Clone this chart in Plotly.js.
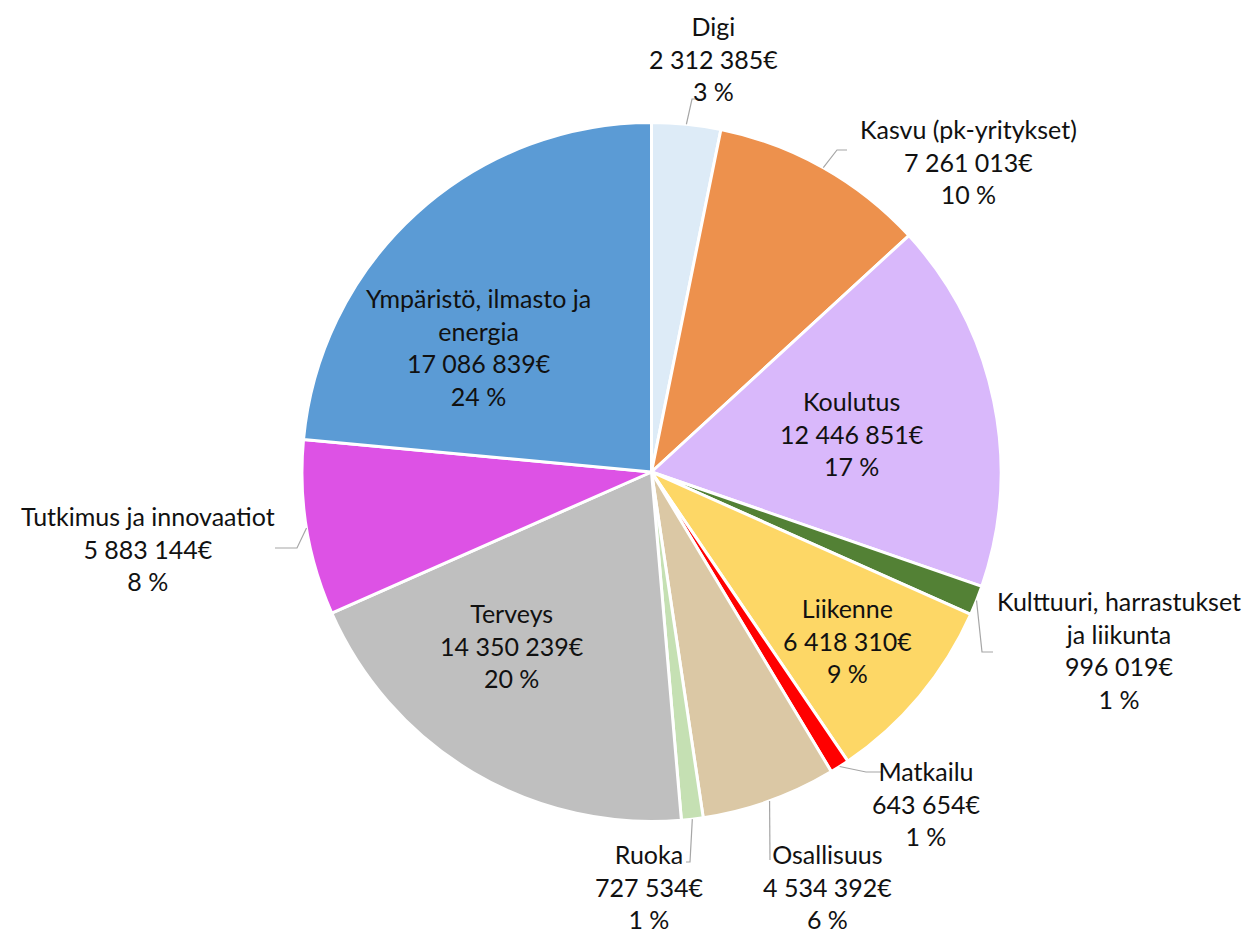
<!DOCTYPE html>
<html>
<head>
<meta charset="utf-8">
<script src="https://cdn.plot.ly/plotly-3.0.1.min.js"></script>
<style>
  html, body { margin: 0; padding: 0; background: #fff; }
  #chart { width: 1258px; height: 934px; }
</style>
</head>
<body>
<div id="chart"></div>
<script>
// slices, clockwise from 12 o'clock
const categories = [
    'Digi',
    'Kasvu (pk-yritykset)',
    'Koulutus',
    'Kulttuuri, harrastukset<br>ja liikunta',
    'Liikenne',
    'Matkailu',
    'Osallisuus',
    'Ruoka',
    'Terveys',
    'Tutkimus ja innovaatiot',
    'Ympäristö, ilmasto ja<br>energia'
];
const amounts = [2312385, 7261013, 12446851, 996019, 6418310, 643654, 4534392, 727534, 14350239, 5883144, 17086839];
const colors = ['#DDEBF7', '#ED914D', '#D9B8FB', '#538135', '#FDD766', '#FF0000', '#DBC8A5', '#C5E0B3', '#BFBFBF', '#DD52E5', '#5B9BD5'];

// label centres in px (x, y from top), layout only
const labelPos = [
    [713, 58], [968, 162], [852, 434], [1119, 650], [847, 640], [926, 803],
    [828, 886], [649, 886], [512, 645], [148, 548], [478, 347]
];
// leader lines: elbow x,y then end x,y (null = label sits inside the slice)
const leaders = [
    [692, 99, 703, 99], [837, 150, 847, 150], null, [982, 652, 993, 652], null,
    [866, 772, 882, 772], [770, 860, 770, 860], [690, 862, 686, 862], null,
    [297, 548, 275, 548], null
];

const W = 1258, H = 934;
const cx = 651.5, cy = 472, R = 349.5;

function fmt(n) {
    return String(n).replace(/\B(?=(\d{3})+(?!\d))/g, ' ');
}

const total = amounts.reduce((a, b) => a + b, 0);

var annotations = [];
var shapes = [];
var cum = 0;
for (var i = 0; i < categories.length; i++) {
    var frac = amounts[i] / total;
    var mid = (cum + frac / 2) * 2 * Math.PI;
    cum += frac;
    var txt = categories[i] + '<br>' + fmt(amounts[i]) + '€<br>' + Math.round(frac * 100) + ' %';
    annotations.push({
        x: labelPos[i][0] / W, y: 1 - labelPos[i][1] / H,
        xref: 'paper', yref: 'paper', xanchor: 'center', yanchor: 'middle',
        text: txt, showarrow: false, align: 'center',
        font: {family: 'Lato, sans-serif', size: 25, color: '#111'}
    });
    if (leaders[i]) {
        var sx = cx + R * Math.sin(mid), sy = cy - R * Math.cos(mid);
        var l = leaders[i];
        var path = 'M' + (sx / W) + ',' + (1 - sy / H) +
                   ' L' + (l[0] / W) + ',' + (1 - l[1] / H) +
                   ' L' + (l[2] / W) + ',' + (1 - l[3] / H);
        shapes.push({type: 'path', xref: 'paper', yref: 'paper', path: path,
                     line: {color: '#A6A6A6', width: 1.2}});
    }
}

var data = [{
    type: 'pie',
    labels: categories,
    values: amounts,
    sort: false,
    direction: 'clockwise',
    rotation: 0,
    textinfo: 'none',
    hoverinfo: 'skip',
    marker: {colors: colors, line: {color: '#ffffff', width: 3}},
    domain: {x: [(cx - R) / W, (cx + R) / W], y: [1 - (cy + R) / H, 1 - (cy - R) / H]}
}];

var layout = {
    width: W, height: H,
    margin: {l: 0, r: 0, t: 0, b: 0},
    showlegend: false,
    paper_bgcolor: '#ffffff',
    annotations: annotations,
    shapes: shapes
};

Plotly.newPlot('chart', data, layout, {displayModeBar: false, staticPlot: true});
</script>
</body>
</html>
